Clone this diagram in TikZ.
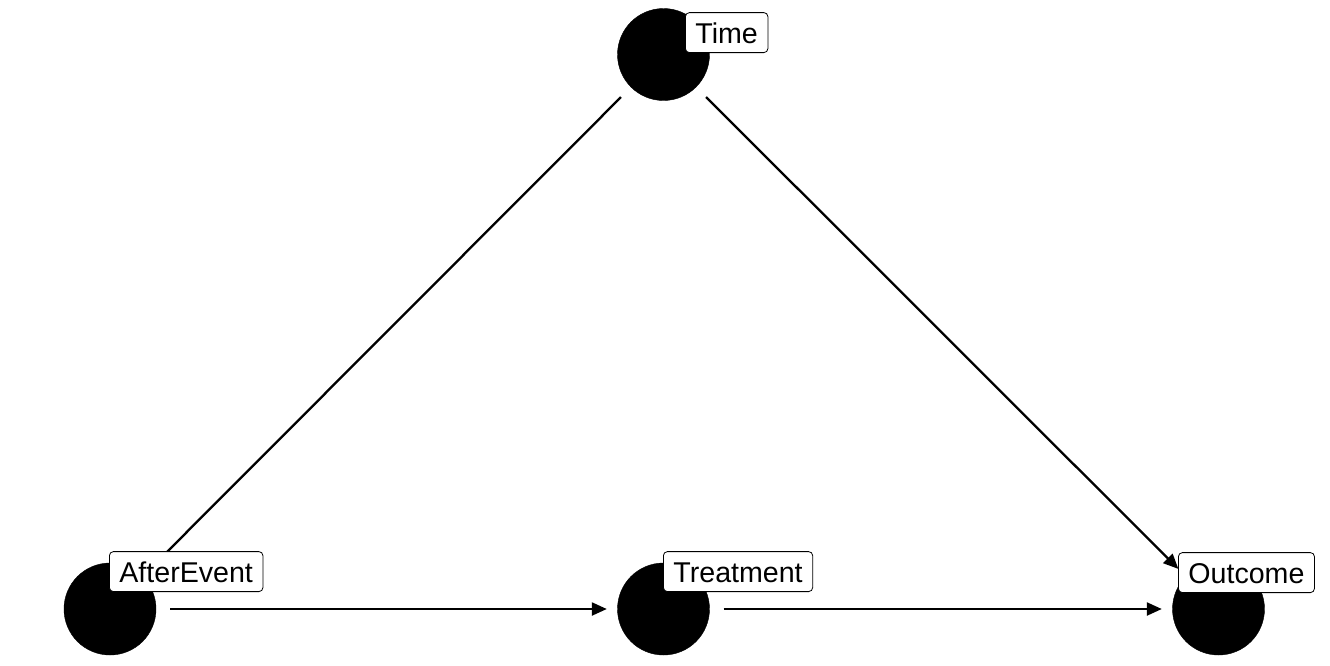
\documentclass[tikz,border=0pt]{standalone}
\usepackage{fontspec}
\setmainfont{Liberation Sans}
\usetikzlibrary{arrows.meta}

\begin{document}
\begin{tikzpicture}[x=1pt,y=-1pt,
        dot/.style={circle,fill=black,draw=black,minimum size=92pt,inner sep=0pt},
        lab/.style={draw=black,fill=white,rounded corners=4pt,line width=0.8pt,
            inner xsep=10pt,inner ysep=0pt,minimum height=40pt,
            text height=25pt,text depth=3pt,font=\fontsize{28.6}{30}\selectfont},
        edge/.style={line width=2.3pt,-{Triangle[length=15pt,width=13pt]},
            shorten <=14pt,shorten >=10.5pt}]
        \useasboundingbox (0,0) rectangle (1330,665);

        % Draw the nodes
        \node[dot] (time) at (663.5,54.5) {};
        \node[dot] (after) at (110,609) {};
        \node[dot] (treat) at (663.5,609) {};
        \node[dot] (out) at (1218.5,609) {};

        % Draw the edges
        \draw[edge] (time) -- (after);
        \draw[edge] (time) -- (out);
        \draw[edge] (after) -- (treat);
        \draw[edge] (treat) -- (out);

        % Add the labels
        \node[lab,anchor=south west] (timelab) at (685,53) {Time};
        \node[lab,anchor=south west] (afterlab) at (109,592) {AfterEvent};
        \node[lab,anchor=south west] (treatlab) at (663,592) {Treatment};
        \node[lab,anchor=south west] (outlab) at (1178,593) {Outcome};
    \end{tikzpicture}
\end{document}
